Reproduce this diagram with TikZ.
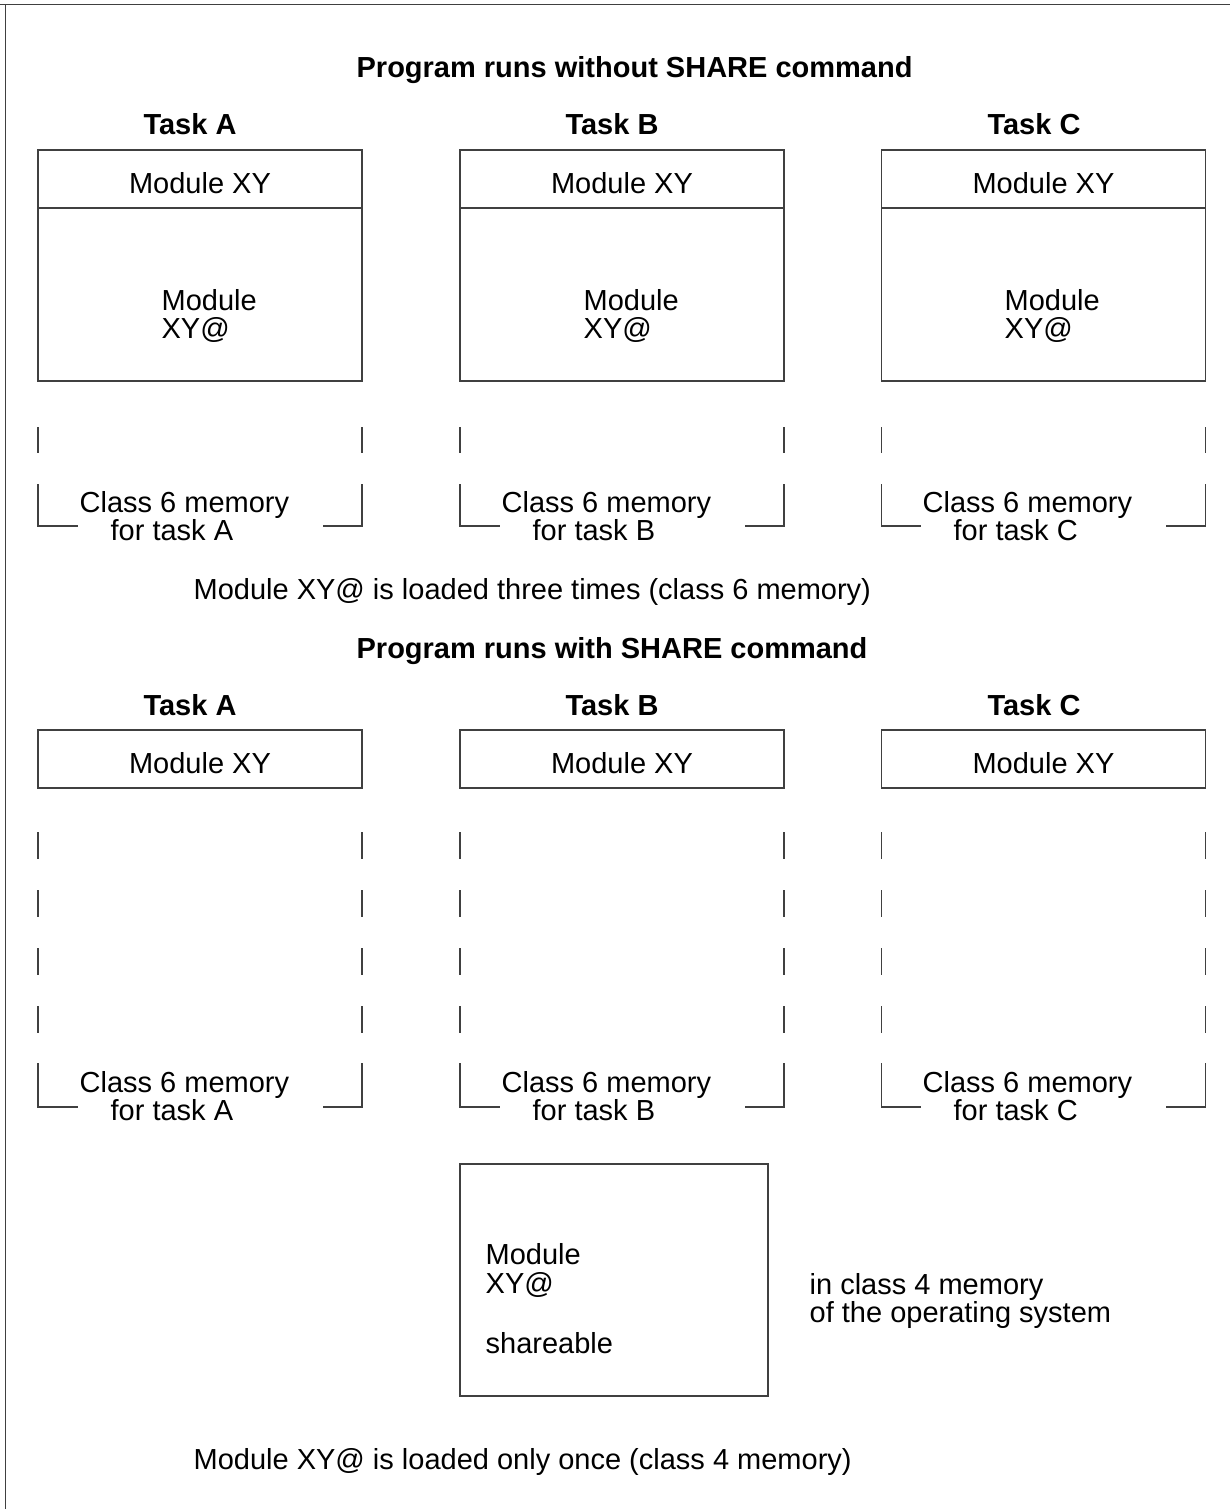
\documentclass[tikz,border=0pt]{standalone}
\usepackage{fontspec}
\setmainfont{Liberation Sans}
\usepackage{tikz}
\newcommand{\memfont}{\fontsize{29}{28.5}\selectfont}

\begin{document}
\begin{tikzpicture}[x=1pt,y=-1pt,line width=1.3pt,font=\memfont,
  line/.style={draw=black!75},
  box/.style={line,rectangle,inner sep=0pt,outer sep=0pt,minimum width=324pt},
  head/.style={box,minimum height=58pt,text height=28pt,text depth=0pt},
  body/.style={box,minimum height=173pt},
  heading/.style={font=\memfont\bfseries,anchor=base west,inner sep=0pt},
  task/.style={font=\memfont\bfseries,anchor=base,inner sep=0pt},
  note/.style={anchor=base west,align=left,inner sep=0pt},
  dashes/.style={line,dash pattern=on 27pt off 31pt}]
\useasboundingbox (0,0) rectangle (1230,1509);
\draw[line] (0,4.5) -- (1230,4.5);
\draw[line] (5.5,4.5) -- (5.5,1509);

% without SHARE
\node[heading] (title1) at (356,78) {Program runs without SHARE command};
\node[task] (tA1) at (190,135) {Task A};
\node[task] (tB1) at (612,135) {Task B};
\node[task] (tC1) at (1034,135) {Task C};
\node[head] (hA1) at (200,179) {Module XY};
\node[head] (hB1) at (622,179) {Module XY};
\node[head] (hC1) at (1043.5,179) {Module XY};
\node[body] (bA1) at (200,294.5) {};
\node[body] (bB1) at (622,294.5) {};
\node[body] (bC1) at (1043.5,294.5) {};
% base of a two-line note = its last line
\node[note] (mA1) at (161,338.5) {Module\\XY@};
\node[note] (mB1) at (583,338.5) {Module\\XY@};
\node[note] (mC1) at (1004,338.5) {Module\\XY@};
\draw[line] (38,427) -- (38,453);
\draw[line] (362,427) -- (362,453);
\draw[line] (460,427) -- (460,453);
\draw[line] (784,427) -- (784,453);
\draw[line] (881.5,427) -- (881.5,453);
\draw[line] (1205.5,427) -- (1205.5,453);
\draw[line] (38,484) |- (78,526);
\draw[line] (323,526) -| (362,484);
\draw[line] (460,484) |- (500,526);
\draw[line] (745,526) -| (784,484);
\draw[line] (881.5,484) |- (921,526);
\draw[line] (1166,526) -| (1205.5,484);
\node[note] (cA1) at (79,540.5) {Class 6 memory\\\hspace*{31pt}for task A};
\node[note] (cB1) at (501,540.5) {Class 6 memory\\\hspace*{31pt}for task B};
\node[note] (cC1) at (922,540.5) {Class 6 memory\\\hspace*{31pt}for task C};
\node[note] (cap1) at (193,599) {Module XY@ is loaded three times (class 6 memory)};

% with SHARE
\node[heading] (title2) at (356,658) {Program runs with SHARE command};
\node[task] (tA2) at (190,715) {Task A};
\node[task] (tB2) at (612,715) {Task B};
\node[task] (tC2) at (1034,715) {Task C};
\node[head] (hA2) at (200,759) {Module XY};
\node[head] (hB2) at (622,759) {Module XY};
\node[head] (hC2) at (1043.5,759) {Module XY};
\draw[dashes] (38,832) -- (38,1033);
\draw[dashes] (362,832) -- (362,1033);
\draw[dashes] (460,832) -- (460,1033);
\draw[dashes] (784,832) -- (784,1033);
\draw[dashes] (881.5,832) -- (881.5,1033);
\draw[dashes] (1205.5,832) -- (1205.5,1033);
\draw[line] (38,1063) |- (78,1107);
\draw[line] (323,1107) -| (362,1063);
\draw[line] (460,1063) |- (500,1107);
\draw[line] (745,1107) -| (784,1063);
\draw[line] (881.5,1063) |- (921,1107);
\draw[line] (1166,1107) -| (1205.5,1063);
\node[note] (cA2) at (79,1120.5) {Class 6 memory\\\hspace*{31pt}for task A};
\node[note] (cB2) at (501,1120.5) {Class 6 memory\\\hspace*{31pt}for task B};
\node[note] (cC2) at (922,1120.5) {Class 6 memory\\\hspace*{31pt}for task C};
\node[box,minimum width=308pt,minimum height=232pt] (shared) at (614,1280) {};
\node[note] (sharedtxt) at (485,1353) {Module\\XY@\\[31.5pt]shareable};
\node[note] (os) at (809,1322.5) {in class 4 memory\\of the operating system};
\node[note] (cap2) at (193,1469) {Module XY@ is loaded only once (class 4 memory)};
\end{tikzpicture}
\end{document}
